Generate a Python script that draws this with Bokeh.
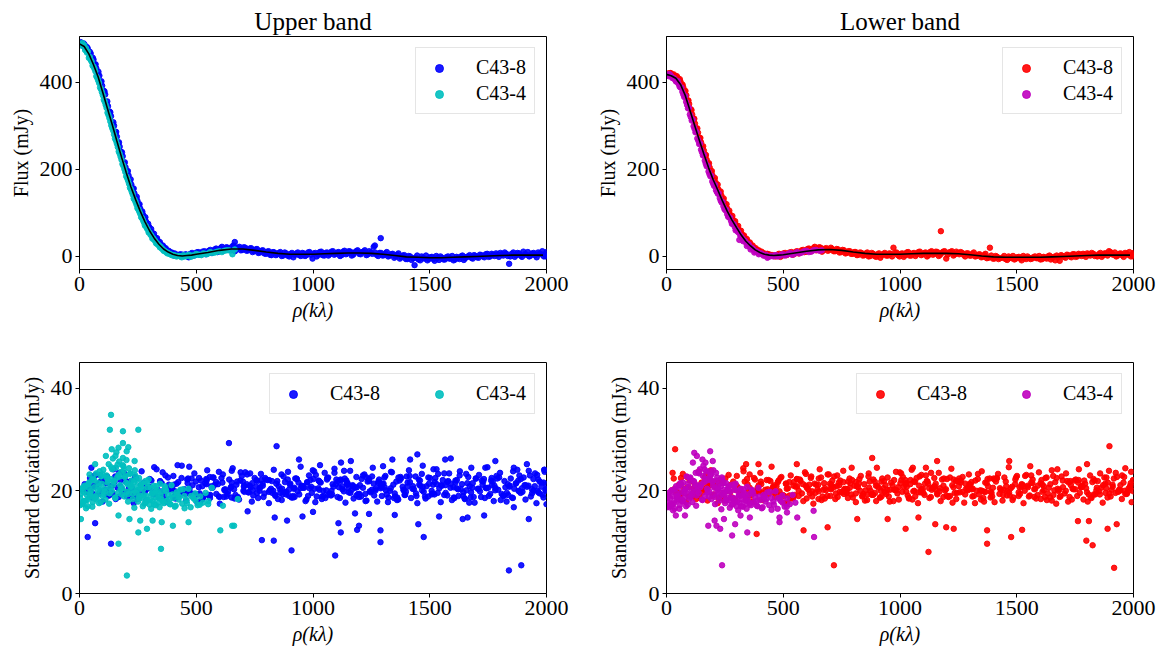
from bokeh.plotting import figure
from bokeh.layouts import column, row
from bokeh.models import Range1d, FixedTicker
from bokeh.embed import file_html
from bokeh.resources import INLINE

# ---------------- data ----------------
x_ticks = [0, 500, 1000, 1500, 2000]
flux_ticks = [0, 200, 400]
sd_ticks = [0, 20, 40]

# model curves
model_rho = [0, 20, 40, 60, 80, 100, 120, 140, 160, 180, 200, 220, 240, 260, 280, 300, 320, 340, 360, 380,
             400, 420, 440, 460, 480, 500, 550, 600, 650, 700, 750, 800, 850, 900, 950, 1000, 1050, 1100,
             1150, 1200, 1250, 1300, 1350, 1400, 1450, 1500, 1550, 1600, 1650, 1700, 1750, 1800, 1850,
             1900, 1950, 1985]
model_up = [488, 482, 465, 440, 412, 376, 339, 303, 265, 228, 193, 160, 131, 104, 80, 59, 42, 28, 17, 10,
            5, 2, 1, 2, 3, 5, 9, 14, 17, 17, 14, 10, 7, 5, 5, 5, 6, 7, 8, 8, 7, 5, 2, -1, -2, -3, -3, -2,
            -1, 0, 1, 2, 3, 3, 3, 3]
model_lo = [418, 415, 409, 395, 370, 336, 302, 268, 235, 204, 176, 152, 127, 104, 84, 66, 49, 35, 24, 15,
            9, 5, 3, 2, 3, 4, 8, 12, 15, 16, 14, 10, 7, 5, 5, 5, 6, 7, 7, 7, 6, 4, 1, -1, -2, -2, -2, -2,
            -1, 0, 1, 2, 3, 3, 3, 3]

# flux, C43-8, steep part (three passes)
rho_steep8 = [10, 22, 35, 48, 60, 72, 85, 97, 110, 122, 135, 148, 160, 172, 185, 197, 210, 222, 235, 248,
              260, 272, 285, 298, 310, 322, 335, 348, 360, 372, 385, 398, 410, 422, 435, 448,
              15, 28, 42, 55, 66, 78, 91, 104, 116, 128, 141, 154, 166, 178, 191, 204, 216, 228, 241, 254,
              266, 279, 291, 304, 316, 329, 341, 354, 366, 379, 392, 404, 416, 429, 441,
              5, 18, 31, 44, 57, 69, 81, 94, 107, 119, 132, 145, 157, 169, 182, 194, 207, 219, 232, 245,
              257, 269, 282, 294, 307, 319, 332, 344, 357, 369, 382, 395, 407, 419, 432, 444]
flux8_up_steep = [490, 486, 478, 466, 452, 432, 415, 392, 372, 345, 322, 300, 275, 252, 230, 205, 186, 165,
                  145, 128, 110, 96, 80, 68, 55, 45, 36, 27, 21, 14, 10, 6, 4, 2, 3, 1,
                  484, 479, 466, 452, 440, 418, 400, 380, 350, 333, 305, 285, 260, 240, 213, 195, 172, 155,
                  133, 118, 101, 86, 72, 58, 47, 39, 30, 22, 17, 9, 8, 2, 3, 1, 4,
                  492, 489, 481, 470, 456, 441, 424, 402, 379, 356, 331, 308, 286, 262, 239, 216, 196, 177,
                  156, 137, 120, 103, 90, 75, 63, 52, 42, 33, 25, 19, 13, 9, 7, 4, 5, 3]
flux8_lo_steep = [419, 418, 414, 410, 401, 388, 370, 350, 326, 305, 284, 262, 243, 222, 204, 186, 170, 154,
                  140, 123, 110, 96, 84, 72, 61, 52, 41, 34, 27, 20, 15, 11, 8, 4, 5, 2,
                  421, 416, 413, 404, 395, 380, 358, 338, 317, 294, 272, 250, 231, 212, 193, 176, 161, 146,
                  130, 115, 101, 89, 77, 66, 55, 46, 36, 29, 22, 16, 12, 7, 6, 3, 2,
                  420, 421, 418, 414, 407, 394, 380, 358, 336, 316, 294, 272, 253, 233, 214, 196, 180, 165,
                  149, 133, 120, 105, 93, 81, 70, 59, 48, 40, 32, 25, 19, 14, 11, 7, 6, 4]

# flux, C43-8, tail (two passes)
rho_tail8 = [455, 468, 482, 495, 508, 520, 535, 548, 560, 572,
             585, 598, 610, 622, 635, 648, 660, 672, 685, 698,
             710, 722, 735, 748, 760, 772, 785, 798, 810, 822,
             835, 848, 860, 872, 885, 898, 910, 922, 935, 948,
             960, 972, 985, 998, 1010, 1022, 1035, 1048, 1060, 1072,
             1085, 1098, 1110, 1122, 1135, 1148, 1160, 1172, 1185, 1198,
             1210, 1222, 1235, 1248, 1260, 1272, 1285, 1298, 1310, 1322,
             1335, 1348, 1360, 1372, 1385, 1398, 1410, 1422, 1440, 1452,
             1465, 1478, 1490, 1502, 1515, 1528, 1540, 1552, 1565, 1578,
             1590, 1602, 1615, 1628, 1640, 1652, 1665, 1678, 1690, 1702,
             1715, 1728, 1740, 1752, 1765, 1778, 1790, 1802, 1815, 1828,
             1845, 1858, 1870, 1882, 1895, 1908, 1920, 1932, 1945, 1958,
             1970, 1982, 1995,
             462, 475, 488, 501, 514, 527, 541, 554, 566, 579,
             591, 604, 616, 629, 641, 654, 666, 679, 691, 704,
             716, 729, 741, 754, 766, 779, 791, 804, 816, 829,
             841, 854, 866, 879, 891, 904, 916, 929, 941, 954,
             966, 979, 991, 1004, 1016, 1029, 1041, 1054, 1066, 1079,
             1091, 1104, 1116, 1129, 1141, 1154, 1166, 1179, 1191, 1204,
             1216, 1229, 1241, 1254, 1266, 1279, 1291, 1304, 1316, 1329,
             1341, 1354, 1366, 1379, 1391, 1404, 1416, 1429, 1446, 1459,
             1471, 1484, 1496, 1509, 1521, 1534, 1546, 1559, 1571, 1584,
             1596, 1609, 1621, 1634, 1646, 1659, 1671, 1684, 1696, 1709,
             1721, 1734, 1746, 1759, 1771, 1784, 1796, 1809, 1821, 1834,
             1851, 1864, 1876, 1889, 1901, 1914, 1926, 1939, 1951, 1964,
             1976, 1989, 2000]
flux8_up_tail = [5, -2, 8, 3, 10, 6, 12, 7, 15, 10,
                 18, 12, 22, 16, 20, 14, 25, 18, 22, 15,
                 20, 14, 19, 12, 17, 9, 14, 6, 12, 3,
                 9, 5, 10, 2, 7, 0, 8, 4, 9, 1,
                 7, 3, 10, -5, 8, 4, 11, 2, 9, 5,
                 12, 6, 10, 3, 13, 7, 11, 4, 12, 6,
                 10, 14, 5, 9, 22, 4, 8, 2, 7, 0,
                 5, -3, 4, -5, 2, -6, 1, -8, -3, -7,
                 0, -5, -9, -2, -6, 1, -8, -3, -7, 0,
                 -5, -9, -1, -6, 2, -4, 0, -3, 3, -2,
                 4, 0, 5, -1, 6, 1, 4, 8, 2, 6,
                 0, 9, 3, 7, -1, 5, 10, 2, 8, -2,
                 6, 12, 1,
                 0, 6, 2, 9, 4, 11, 5, 13, 8, 16,
                 10, 19, 13, 21, 15, 23, 12, 20, 14, 21,
                 13, 18, 10, 16, 8, 13, 7, 11, 4, 10,
                 3, 8, 1, 9, 2, 6, -2, 7, 3, 8,
                 1, 9, 4, 7, 0, 10, 3, 8, 2, 11,
                 4, 9, 1, 11, 5, 12, 2, 9, 14, 5,
                 11, 3, 12, 6, 9, 1, 8, 3, 10, 2,
                 6, 0, 7, -2, 3, -6, 0, -4, 2, -9,
                 -4, 2, -6, -1, -10, -3, 0, -7, -2, -5,
                 1, -7, -3, 0, -8, -1, 3, -5, 1, -3,
                 3, -2, 6, 0, 4, 7, -1, 5, 9, 1,
                 6, -1, 8, 2, 11, 4, 0, 7, 3, 9,
                 5, 0, 7]
flux8_lo_tail = [3, 0, 6, 2, 8, 5, 10, 6, 12, 9,
                 15, 11, 18, 13, 22, 16, 20, 14, 19, 15,
                 17, 12, 16, 10, 14, 8, 12, 6, 10, 4,
                 8, 3, 9, 1, 6, -1, 7, 3, 8, 2,
                 6, 20, 9, 0, 7, 3, 10, 2, 8, 5,
                 11, 5, 9, 3, 12, 6, 10, 4, 11, -5,
                 9, 12, 5, 8, 10, 4, 7, 2, 6, 0,
                 4, -2, 3, -4, 20, -5, 1, -6, -3, -6,
                 0, -4, -7, -2, -5, 1, -6, -3, -5, 0,
                 -4, -7, -1, -5, 2, -3, -9, -2, 3, -1,
                 4, 0, 5, -1, 6, 1, 4, 7, 2, 6,
                 0, 8, 3, 7, 12, 5, 9, 2, 7, -1,
                 6, 10, 2,
                 1, 4, -1, 7, 3, 9, 4, 11, 7, 14,
                 10, 17, 12, 19, 14, 21, 11, 18, 13, 20,
                 12, 17, 9, 15, 7, 12, 6, 10, 3, 9,
                 2, 7, 0, 8, 1, 5, -3, 6, 2, 7,
                 0, 8, 3, 6, -1, 9, 2, 7, 1, 10,
                 3, 8, 0, 10, 4, 11, 1, 8, 12, 4,
                 10, 2, 11, 5, 8, 0, 7, 2, 9, 1,
                 5, -1, 6, -3, 2, -5, -1, -4, 1, -8,
                 -3, 1, -5, -1, -9, -3, 0, -6, -2, -4,
                 1, -6, -3, 0, -7, -1, 2, -10, 1, -3,
                 3, -2, 5, 0, 4, 6, -1, 5, 8, 1,
                 5, -1, 7, 2, 10, 4, 0, 6, 3, 8,
                 4, 0, 6]
rho_out8f_up = [1290, 1435, 1840, 1265, 665, 2000, 2000, 1998]
flux_out8_up = [42, -20, -17, 25, 33, 10, 0, 5]
rho_out8f_lo = [1175, 2000, 2000, 1998]
flux_out8_lo = [58, 8, 0, 4]

# flux, C43-4 (two passes)
rho_flux4 = [5, 12, 20, 28, 36, 44, 52, 60, 68, 76,
             84, 92, 100, 108, 116, 124, 132, 140, 148, 156,
             164, 172, 180, 188, 196, 204, 212, 220, 228, 236,
             244, 252, 260, 268, 276, 284, 292, 300, 308, 316,
             324, 332, 340, 348, 356, 364, 372, 380, 390, 400,
             410, 420, 432, 445, 458, 470, 485, 500, 515, 530,
             545, 560, 580, 600, 620, 640, 655, 665,
             9, 16, 24, 32, 40, 48, 56, 64, 72, 80,
             88, 96, 104, 112, 120, 128, 136, 144, 152, 160,
             168, 176, 184, 192, 200, 208, 216, 224, 232, 240,
             248, 256, 264, 272, 280, 288, 296, 304, 312, 320,
             328, 336, 344, 352, 360, 368, 376, 385, 395, 405,
             415, 426, 438, 451, 464, 477, 492, 507, 522, 537,
             552, 570, 590, 610, 630]
flux4_up = [487, 490, 485, 478, 470, 458, 447, 436, 425, 410,
            398, 384, 370, 355, 341, 325, 310, 295, 280, 266,
            251, 236, 222, 208, 194, 180, 167, 154, 142, 130,
            119, 108, 98, 88, 78, 70, 62, 55, 48, 42,
            36, 30, 26, 22, 17, 13, 10, 8, 5, 3,
            2, 1, 0, 3, 1, 4, 2, 6, 4, 7,
            5, 10, 9, 12, 13, 14, 5, 16,
            484, 486, 474, 468, 456, 451, 438, 431, 414, 404,
            388, 377, 360, 348, 330, 318, 301, 289, 271, 259,
            241, 229, 212, 201, 184, 174, 158, 148, 133, 125,
            111, 103, 90, 83, 71, 65, 55, 50, 41, 38,
            30, 27, 21, 18, 13, 11, 7, 6, 3, 2,
            0, 1, -2, 0, 3, -1, 2, 4, 3, 6,
            7, 8, 11, 10, 14]
flux4_lo = [417, 419, 414, 410, 406, 401, 396, 388, 378, 366,
            355, 340, 326, 312, 299, 285, 271, 258, 245, 232,
            220, 207, 195, 184, 172, 162, 152, 144, 134, 124,
            115, 106, 97, 90, 82, 75, 68, 61, 55, 48,
            42, 37, 32, 28, 23, 20, 16, 12, 10, 7,
            5, 2, -3, 1, 0, 3, 1, 5, 4, 8,
            5, 10, 9, 13, 11, 15, 13, 14,
            414, 417, 410, 409, 402, 403, 390, 388, 372, 368,
            348, 341, 320, 314, 293, 286, 266, 259, 239, 233,
            213, 208, 189, 185, 167, 164, 148, 145, 128, 125,
            109, 107, 91, 89, 75, 74, 60, 58, 38, 45,
            35, 36, 24, 28, 16, 19, 9, 12, 5, 7,
            2, 4, -1, 1, 3, 0, 4, 2, 6, 4,
            8, 7, 12, 10, 14]

# standard deviation, C43-8 (two passes)
rho_std8 = [22, 31, 45, 53, 64, 70, 83, 91, 99, 112,
            118, 127, 139, 146, 155, 163, 176, 184, 190, 203,
            211, 219, 232, 238, 247, 259, 266, 274, 286, 293,
            301, 314, 320, 329, 341, 347, 356, 368, 375, 383,
            395, 402, 410, 423, 429, 438, 450, 457, 465, 477,
            484, 492, 505, 511, 520, 532, 539, 547, 559, 566,
            574, 586, 593, 601, 614, 620, 629, 641, 647, 656,
            668, 675, 683, 695, 702, 710, 723, 729, 738, 750,
            757, 765, 777, 784, 792, 805, 811, 820, 832, 839,
            847, 859, 866, 874, 886, 893, 901, 914, 920, 929,
            941, 947, 956, 968, 975, 983, 995, 1002, 1010, 1023,
            1029, 1038, 1050, 1057, 1065, 1077, 1084, 1092, 1105, 1111,
            1120, 1132, 1139, 1147, 1159, 1166, 1174, 1186, 1193, 1201,
            1214, 1220, 1229, 1241, 1247, 1256, 1268, 1275, 1283, 1295,
            1302, 1310, 1323, 1329, 1338, 1350, 1357, 1365, 1377, 1384,
            1392, 1405, 1411, 1420, 1432, 1439, 1447, 1459, 1466, 1474,
            1486, 1493, 1501, 1514, 1520, 1529, 1541, 1547, 1556, 1568,
            1575, 1583, 1595, 1602, 1610, 1623, 1629, 1638, 1650, 1657,
            1665, 1677, 1684, 1692, 1705, 1711, 1720, 1732, 1739, 1747,
            1759, 1766, 1774, 1786, 1793, 1801, 1814, 1820, 1829, 1841,
            1847, 1856, 1868, 1875, 1883, 1895, 1902, 1910, 1923, 1929,
            1938, 1950, 1957, 1965, 1977, 1984, 1992, 1998, 1987, 1971,
            26, 153, 278, 404, 527, 652, 774, 898, 1024, 1148,
            40, 57, 76, 95, 108, 122, 134, 150, 168, 181,
            197, 207, 225, 243, 252, 262, 280, 297, 308, 318,
            335, 352, 362, 379, 390, 406, 416, 433, 445, 461,
            471, 488, 498, 515, 526, 543, 553, 570, 580, 597,
            608, 624, 634, 652, 662, 679, 689, 706, 716, 733,
            744, 761, 771, 788, 798, 815, 826, 843, 853, 870,
            880, 897, 908, 924, 934, 952, 962, 979, 989, 1006,
            1016, 1033, 1044, 1061, 1071, 1088, 1098, 1115, 1126, 1143,
            1153, 1170, 1180, 1197, 1208, 1224, 1234, 1252, 1262, 1279,
            1289, 1306, 1316, 1333, 1344, 1361, 1371, 1388, 1398, 1415,
            1426, 1443, 1453, 1470, 1480, 1497, 1508, 1524, 1534, 1552,
            1562, 1579, 1589, 1606, 1616, 1633, 1644, 1661, 1671, 1688,
            1698, 1715, 1726, 1743, 1753, 1770, 1780, 1797, 1808, 1824,
            1834, 1852, 1862, 1879, 1889, 1906, 1916, 1933, 1944, 1961,
            1971, 1988, 1995, 60, 130, 215, 300, 470, 560, 650,
            705, 760, 812, 868, 921, 975, 1027, 1082, 1136, 1188,
            1243, 1297, 1352, 1404, 1458, 1512, 1567, 1621, 1675, 1729,
            1782, 1836, 1890, 1944, 1998, 48, 115, 175, 235, 290,
            345, 398, 455, 512, 566, 618, 672, 725, 778, 830,
            885, 938, 992, 1045, 1100, 1152, 1206, 1260, 1312, 1366]
sd8_up = [21.3, 19.8, 22.5, 18.7, 20.9, 23.1, 19.4, 21.8, 17.9, 20.2,
          22.8, 19.1, 21.0, 24.2, 18.4, 20.6, 22.1, 19.7, 23.5, 18.9,
          20.4, 21.9, 17.6, 22.7, 20.0, 19.3, 23.8, 21.4, 18.2, 20.8,
          22.3, 19.6, 24.6, 20.1, 18.8, 21.6, 19.9, 23.0, 17.8, 21.2,
          20.5, 22.9, 18.5, 21.7, 19.2, 24.9, 20.3, 18.1, 22.4, 19.5,
          21.1, 23.4, 17.7, 20.7, 22.0, 19.0, 21.5, 24.0, 18.6, 20.9,
          22.6, 19.4, 21.3, 17.5, 23.2, 20.2, 18.9, 22.2, 20.6, 24.4,
          19.2, 21.8, 18.3, 22.9, 20.0, 23.6, 19.7, 21.0, 17.9, 22.5,
          20.8, 18.6, 23.3, 21.4, 19.5, 22.1, 17.6, 20.4, 24.1, 19.0,
          21.9, 20.3, 18.2, 22.8, 19.8, 23.7, 21.2, 18.7, 20.6, 22.4,
          19.3, 24.7, 20.9, 18.0, 21.6, 23.0, 19.6, 22.3, 17.8, 20.5,
          21.7, 18.4, 23.5, 20.1, 22.6, 19.1, 21.3, 24.3, 18.8, 20.7,
          22.0, 19.9, 17.7, 21.5, 23.9, 20.2, 18.5, 22.7, 19.4, 21.1,
          20.6, 23.2, 18.1, 21.9, 19.7, 24.5, 20.4, 17.9, 22.2, 19.0,
          21.4, 22.9, 18.7, 20.0, 23.6, 19.5, 21.8, 18.3, 22.4, 20.8,
          19.2, 21.6, 24.0, 18.6, 20.3, 22.8, 17.6, 21.0, 23.3, 19.8,
          20.9, 18.9, 22.5, 21.2, 19.3, 24.2, 20.5, 17.8, 22.1, 19.6,
          21.7, 23.4, 18.2, 20.7, 22.0, 19.0, 23.8, 21.3, 18.5, 20.1,
          22.7, 19.7, 21.5, 17.7, 20.4, 23.1, 18.8, 22.3, 20.6, 24.6,
          19.4, 21.1, 18.0, 22.9, 20.2, 23.5, 19.1, 21.9, 17.9, 20.8,
          22.4, 18.6, 21.4, 24.1, 19.9, 20.5, 22.6, 18.3, 21.0, 23.0,
          19.5, 20.9, 17.6, 22.2, 21.6, 19.2, 23.7, 20.0, 18.7, 21.8,
          20.3, 22.8, 19.8, 21.2, 18.4, 23.9, 20.7, 19.0, 22.0, 21.5,
          20.6, 19.4, 21.3, 20.0, 22.1, 19.1, 20.9, 21.7, 18.8, 20.3,
          21.9, 19.7, 20.5, 22.4, 18.6, 21.1, 19.9, 20.7, 22.0, 19.3,
          20.2, 21.5, 19.0, 22.6, 20.8, 18.9, 21.4, 20.1, 19.6, 22.2,
          20.4, 18.7, 21.8, 19.5, 20.9, 22.3, 19.2, 20.6, 21.2, 18.9,
          22.5, 20.0, 19.4, 21.6, 20.3, 18.6, 22.0, 19.8, 21.3, 20.7,
          19.1, 21.9, 20.5, 18.8, 22.2, 20.1, 19.6, 21.4, 20.9, 19.3,
          21.7, 20.2, 18.7, 22.4, 19.9, 21.0, 20.6, 19.0, 22.1, 20.4,
          18.9, 21.6, 20.0, 22.5, 19.5, 20.8, 21.3, 18.6, 20.3, 22.0,
          19.7, 21.1, 20.6, 18.8, 22.3, 19.4, 21.8, 20.2, 19.1, 21.5,
          20.9, 22.6, 19.3, 20.5, 21.2, 18.7, 22.0, 20.1, 19.8, 21.7,
          20.4, 19.0, 22.2, 20.8, 18.9, 21.4, 20.0, 22.5, 19.6, 21.0,
          19.2, 21.9, 20.6, 18.6, 22.1, 20.3, 19.7, 21.5, 20.9, 18.8,
          22.4, 19.9, 21.2, 20.5, 19.0, 21.8, 20.1, 22.6, 19.4, 20.7,
          21.3, 18.7, 20.4, 22.0, 19.6, 21.1, 20.8, 18.9, 22.3, 20.0,
          19.5, 21.6, 20.2, 20.9, 19.8, 21.3, 20.6, 20.1, 19.2, 20.8,
          21.0, 19.6, 22.1, 20.4, 18.8, 21.7, 20.2, 19.3, 22.4, 20.7,
          19.9, 21.4, 18.9, 20.8, 22.0, 19.5, 21.1, 20.3, 18.7, 21.8,
          20.5, 19.2, 22.3, 20.0, 21.3, 19.8, 21.5, 20.9, 19.1, 20.4,
          21.9, 20.2, 19.4, 22.5, 20.6, 18.8, 21.2, 19.7, 22.1, 20.0,
          19.3, 21.6, 20.8, 19.0, 22.2, 20.5, 18.9, 21.4, 20.1, 22.6]
sd8_lo = [20.1, 22.4, 18.9, 21.2, 19.5, 23.3, 17.8, 20.7, 22.0, 19.0,
          21.6, 18.4, 23.8, 20.3, 19.7, 22.6, 18.1, 21.0, 24.0, 19.3,
          20.9, 17.6, 22.2, 21.5, 18.7, 20.0, 23.1, 19.8, 21.8, 18.3,
          22.9, 20.4, 19.1, 24.4, 18.6, 21.3, 20.6, 17.9, 22.5, 19.6,
          21.1, 23.5, 18.2, 20.2, 22.1, 19.4, 24.7, 20.8, 18.8, 21.7,
          19.9, 22.7, 17.7, 21.4, 20.5, 23.0, 18.5, 19.2, 22.3, 20.0,
          21.9, 18.0, 23.6, 20.6, 19.5, 22.8, 17.5, 21.2, 20.3, 24.2,
          18.9, 21.5, 20.1, 23.2, 19.0, 22.0, 18.4, 20.9, 21.6, 19.7,
          23.9, 20.4, 18.6, 22.4, 19.3, 21.0, 17.8, 20.7, 22.9, 19.1,
          21.3, 18.2, 23.4, 20.0, 22.2, 19.6, 24.5, 18.7, 21.8, 20.5,
          19.4, 22.6, 17.9, 21.1, 20.2, 23.7, 18.3, 21.5, 19.8, 22.1,
          20.8, 18.5, 24.1, 19.9, 21.7, 17.6, 22.8, 20.3, 19.2, 23.0,
          21.4, 18.8, 20.6, 22.5, 19.5, 23.5, 18.0, 21.0, 20.1, 22.3,
          19.0, 24.3, 20.7, 18.4, 21.9, 19.7, 22.7, 17.7, 20.4, 23.2,
          21.2, 18.9, 22.0, 20.0, 19.3, 23.8, 18.6, 21.6, 20.9, 22.4,
          19.6, 17.8, 21.8, 23.3, 20.2, 18.1, 22.6, 19.9, 24.6, 20.5,
          18.7, 21.3, 22.9, 19.4, 20.8, 17.6, 23.1, 21.0, 19.1, 22.2,
          20.3, 18.5, 23.6, 21.5, 19.8, 22.5, 18.2, 20.6, 24.0, 19.2,
          21.7, 20.0, 18.8, 22.8, 19.5, 23.4, 17.9, 21.1, 20.4, 22.0,
          19.0, 24.2, 20.7, 18.3, 21.4, 19.7, 23.0, 18.6, 22.3, 20.1,
          21.9, 19.3, 17.7, 22.6, 20.5, 23.9, 18.9, 21.2, 19.6, 22.7,
          20.2, 18.4, 21.6, 24.4, 19.9, 20.8, 17.8, 22.1, 21.0, 19.4,
          23.5, 20.6, 18.7, 21.8, 19.1, 22.4, 20.3, 18.0, 21.3, 20.9,
          19.8, 21.2, 20.4, 18.9, 22.0, 20.7, 19.3, 21.6, 20.1, 22.3,
          19.0, 20.8, 21.5, 19.6, 22.4, 20.2, 18.7, 21.1, 20.5, 19.4,
          21.8, 20.0, 19.1, 22.2, 20.6, 21.3, 18.8, 20.3, 21.9, 19.7,
          20.9, 22.5, 19.2, 20.4, 21.7, 18.6, 20.8, 22.1, 19.5, 21.0,
          20.2, 18.9, 21.4, 19.9, 22.6, 20.5, 19.0, 21.2, 20.7, 18.8,
          22.0, 20.3, 19.6, 21.5, 18.7, 20.9, 22.3, 19.4, 20.1, 21.8,
          19.2, 21.0, 20.6, 22.4, 19.8, 18.9, 21.6, 20.2, 19.5, 22.1,
          20.8, 19.1, 21.3, 20.0, 22.5, 19.7, 20.4, 21.9, 18.6, 20.7,
          21.4, 19.9, 22.2, 20.3, 18.8, 21.1, 19.6, 20.9, 22.0, 19.3,
          20.5, 21.7, 19.0, 22.3, 20.1, 19.8, 21.5, 18.7, 20.6, 22.4,
          19.4, 20.2, 21.8, 19.1, 20.8, 22.6, 19.7, 21.2, 20.0, 18.9,
          21.6, 20.4, 19.2, 22.1, 20.9, 19.5, 21.3, 20.1, 22.5, 19.0,
          20.7, 21.9, 18.8, 20.3, 22.2, 19.6, 21.0, 20.5, 19.3, 21.7,
          22.0, 19.9, 20.6, 21.4, 18.7, 20.2, 22.4, 19.8, 21.1, 20.0,
          19.5, 21.5, 20.8, 19.2, 20.4, 21.8, 20.1, 19.7, 20.9, 21.2,
          20.3, 19.4, 21.7, 20.6, 18.9, 22.1, 19.8, 21.0, 20.2, 22.4,
          19.6, 21.3, 20.0, 22.2, 19.1, 20.7, 21.5, 18.8, 20.4, 21.9,
          20.9, 19.3, 21.6, 20.1, 22.0, 19.7, 20.5, 21.2, 18.6, 20.8,
          22.3, 19.9, 20.6, 21.4, 19.0, 22.5, 20.2, 19.5, 21.8, 20.0,
          19.2, 21.1, 20.7, 22.1, 19.6, 20.3, 18.9, 21.6, 20.4, 19.8]

# standard deviation, C43-8, third pass
rho_std8c = [35, 88, 142, 196, 249, 302, 356, 410, 463, 517,
             571, 624, 678, 731, 785, 838, 892, 946, 999, 1053,
             1107, 1160, 1214, 1268, 1321, 1375, 1428, 1482, 1536, 1590,
             1643, 1697, 1750, 1804, 1857, 1911, 1965, 62, 116, 169,
             223, 276, 330, 383, 437, 490, 544, 597, 651, 704,
             758, 811, 865, 918, 972, 1026, 1079, 1133, 1186, 1240,
             1294, 1347, 1401, 1455, 1508, 1562, 1616, 1669, 1723, 1777,
             1830, 1884, 1938, 1990, 480, 530, 585, 637, 690, 742,
             795, 850, 903, 957, 1012, 1065, 1118, 1171, 1225, 1280,
             1334, 1388, 1441, 1494, 1548, 1603, 1656, 1710, 1763, 1817,
             1870, 1924, 1978, 505, 558, 612, 664, 718, 771, 824,
             878, 931, 985, 1039, 1092, 1146, 1199, 1253, 1307, 1360,
             1414, 1467, 1521, 1575, 1628, 1682, 1736, 1789, 1843, 1897,
             1951, 2000, 545, 600, 740, 860, 1005, 1125, 1230, 1395,
             1530, 1650, 1765, 1880, 1960, 700, 915, 1060, 1290, 1610]
sd8c_up = [21.2, 23.1, 19.5, 22.0, 18.4, 20.7, 23.6, 19.9, 21.5, 17.9,
           22.6, 20.3, 18.8, 23.4, 21.0, 19.2, 22.2, 20.5, 24.0, 18.6,
           21.8, 19.6, 23.0, 20.1, 17.8, 22.7, 20.9, 18.5, 23.3, 21.4,
           19.0, 22.4, 20.6, 18.2, 23.8, 21.1, 19.7, 22.9, 20.0, 23.5,
           18.9, 21.6, 24.2, 20.2, 22.5, 19.4, 21.3, 23.7, 18.7, 20.8,
           22.1, 19.8, 23.2, 20.4, 18.3, 21.9, 20.0, 23.9, 19.1, 22.3,
           20.7, 18.6, 22.8, 21.2, 19.3, 23.4, 20.5, 17.7, 22.0, 21.0,
           19.6, 23.0, 20.3, 24.1, 22.4, 18.8, 21.7, 19.9, 23.6, 20.1,
           22.5, 18.4, 21.4, 20.6, 23.1, 19.2, 22.2, 20.9, 18.0, 21.8,
           23.7, 20.2, 19.5, 22.6, 21.1, 18.7, 23.3, 20.4, 22.0, 19.0,
           21.5, 23.9, 20.8, 19.3, 22.7, 21.6, 18.5, 23.2, 20.0, 21.9,
           19.7, 22.3, 20.5, 18.9, 23.5, 21.2, 19.4, 22.8, 20.7, 18.2,
           22.9, 20.1, 21.7, 19.1, 23.0, 20.6, 18.6, 22.4, 21.0, 19.8,
           23.4, 20.3, 22.1, 18.8, 21.5, 19.6, 23.8, 20.9, 22.6, 19.2,
           21.3, 18.4, 22.5, 20.0, 23.1, 21.8, 19.0, 22.2, 20.5, 21.6]
sd8c_lo = [20.4, 22.7, 19.0, 21.5, 18.1, 20.9, 23.2, 19.6, 21.1, 17.7,
           22.2, 19.9, 18.5, 23.0, 20.6, 18.9, 21.8, 20.2, 23.6, 18.3,
           21.4, 19.3, 22.6, 19.8, 17.6, 22.3, 20.5, 18.2, 22.9, 21.0,
           18.7, 22.0, 20.3, 17.9, 23.4, 20.8, 19.4, 22.5, 19.7, 23.1,
           18.6, 21.2, 23.8, 19.9, 22.1, 19.1, 21.0, 23.3, 18.4, 20.5,
           21.7, 19.5, 22.8, 20.0, 18.0, 21.5, 19.7, 23.5, 18.8, 21.9,
           20.3, 18.3, 22.4, 20.9, 19.0, 23.0, 20.1, 17.5, 21.6, 20.7,
           19.3, 22.6, 19.9, 23.7, 22.0, 18.5, 21.3, 19.6, 23.2, 19.8,
           22.1, 18.1, 21.0, 20.2, 22.7, 18.9, 21.8, 20.5, 17.7, 21.4,
           23.3, 19.8, 19.2, 22.2, 20.7, 18.4, 22.9, 20.0, 21.6, 18.7,
           21.1, 23.5, 20.4, 19.0, 22.3, 21.2, 18.2, 22.8, 19.7, 21.5,
           19.4, 21.9, 20.1, 18.6, 23.1, 20.8, 19.1, 22.4, 20.3, 17.9,
           22.5, 19.7, 21.3, 18.8, 22.6, 20.2, 18.3, 22.0, 20.6, 19.5,
           23.0, 19.9, 21.7, 18.5, 21.1, 19.3, 23.4, 20.5, 22.2, 18.9,
           20.9, 18.1, 22.1, 19.6, 22.7, 21.4, 18.7, 21.8, 20.1, 21.2]

rho_out8_up = [35, 67, 51, 135, 640, 844, 781, 832, 908, 889,
               836, 1095, 1109, 1119, 1189, 1197, 1289, 1289, 1474, 1451,
               1839, 1892, 1924, 1447, 1340, 1416, 1566, 1590, 1781, 1916,
               1162, 940, 1992, 2000, 1662, 1641, 1733, 1860, 1860, 1738,
               1678, 1516, 720, 955, 1000, 1240, 1350, 1540, 1180, 1030,
               1120, 1300, 1470, 420, 470]
sd_out8_up = [11.0, 13.7, 24.5, 9.7, 29.3, 28.7, 10.4, 10.3, 8.4, 14.2,
              14.8, 7.4, 13.7, 11.9, 12.4, 13.2, 12.3, 10.0, 11.0, 13.5,
              4.5, 5.5, 14.5, 27.1, 26.1, 26.1, 26.1, 26.3, 25.8, 25.2,
              25.8, 26.1, 24.1, 17.4, 14.8, 14.5, 15.2, 16.8, 24.5, 24.5,
              24.5, 24.2, 16.0, 15.0, 15.9, 15.5, 15.3, 15.0, 15.6, 25.0,
              25.5, 24.8, 24.9, 25.0, 24.7]
rho_out8_lo = [37, 717, 1917, 1897, 1122, 881, 1159, 1468, 1373, 1373,
               1825, 1798, 1476, 1523, 1889, 1928, 1024, 1198, 1230, 1151,
               1079, 947, 587, 690, 386, 817, 1809, 1762, 1801, 1558,
               1674, 341, 394, 558, 793, 1055, 1111]
sd_out8_lo = [28.1, 5.5, 5.0, 28.7, 8.1, 26.4, 25.8, 25.8, 9.7, 12.3,
              9.4, 10.3, 11.0, 12.4, 12.6, 13.5, 12.6, 12.9, 12.6, 13.5,
              14.8, 14.5, 12.3, 12.9, 11.6, 14.5, 14.1, 14.1, 25.2, 24.8,
              24.2, 25.2, 25.2, 25.2, 24.5, 24.5, 24.5]

# standard deviation, C43-4
rho_std4 = [3, 8, 12, 17, 21, 26, 30, 35, 39, 44,
            48, 53, 57, 62, 66, 71, 75, 80, 84, 89,
            93, 98, 102, 107, 111, 116, 120, 125, 129, 134,
            138, 143, 147, 152, 156, 161, 165, 170, 174, 179,
            183, 188, 192, 197, 201, 206, 210, 215, 219, 224,
            228, 233, 237, 242, 246, 251, 255, 260, 264, 269,
            273, 278, 282, 287, 291, 296, 300, 305, 309, 314,
            318, 323, 327, 332, 336, 341, 345, 350, 356, 362,
            368, 374, 380, 387, 394, 401, 408, 416, 424, 432,
            440, 449, 458, 467, 476, 486, 496, 506, 517, 528, 540, 552,
            5, 14, 23, 32, 41, 50, 59, 68, 77, 86,
            95, 104, 113, 122, 131, 140, 149, 158, 167, 176,
            185, 194, 203, 212, 221, 230, 239, 248, 257, 266,
            275, 284, 293, 302, 311, 320, 329, 338, 347, 358,
            371, 385, 398, 412, 427, 443, 460, 478, 497, 515,
            2, 10, 19, 28, 37, 46, 55, 64, 73, 82,
            91, 100, 109, 118, 127, 136, 145, 154, 163, 172,
            181, 190, 199, 208, 217, 226, 235, 244, 253, 262,
            271, 289, 307, 325, 343, 365, 390, 420, 450, 490]
sd4_up = [18.6, 20.3, 17.4, 19.8, 21.0, 18.1, 19.3, 17.0, 20.6, 18.8,
          19.9, 22.1, 17.8, 20.7, 18.5, 23.4, 19.2, 21.5, 17.6, 20.1,
          22.8, 19.0, 24.1, 20.4, 18.3, 23.0, 21.6, 25.2, 19.5, 22.3,
          20.0, 26.3, 21.8, 18.7, 24.5, 22.6, 19.6, 25.7, 21.1, 23.7,
          20.5, 24.8, 18.9, 22.9, 26.0, 21.3, 19.4, 23.3, 20.8, 22.0,
          18.4, 21.7, 24.0, 19.7, 20.9, 17.9, 22.5, 19.1, 21.2, 18.6,
          20.3, 17.5, 21.9, 19.0, 18.2, 22.2, 17.3, 20.6, 19.4, 18.0,
          21.0, 18.7, 17.2, 20.1, 19.6, 17.8, 21.4, 18.4, 19.9, 17.6,
          20.5, 18.1, 19.2, 17.4, 21.1, 18.6, 16.9, 19.7, 18.3, 20.2,
          17.5, 19.0, 18.2, 20.4, 16.8, 18.7, 19.5, 17.2, 18.9, 17.7, 19.6, 18.0,
          19.4, 17.7, 20.8, 18.2, 21.6, 19.0, 22.4, 18.8, 20.2, 23.8,
          21.4, 19.3, 26.8, 22.0, 20.6, 24.2, 21.9, 27.5, 23.1, 20.3,
          25.0, 22.7, 19.8, 24.4, 21.0, 19.5, 23.0, 20.1, 18.5, 21.5,
          19.2, 17.8, 20.7, 18.3, 19.6, 17.4, 20.9, 18.6, 19.1, 17.9,
          20.0, 18.4, 19.3, 17.1, 18.8, 20.3, 17.6, 19.0, 18.1, 17.3,
          17.2, 20.5, 18.0, 16.6, 21.3, 19.5, 16.9, 22.0, 18.4, 20.9,
          17.8, 23.2, 19.9, 22.5, 17.5, 24.6, 21.2, 18.6, 25.1, 22.8,
          19.3, 24.0, 21.6, 17.9, 23.4, 20.2, 16.7, 22.1, 18.8, 20.6,
          17.0, 21.5, 16.5, 19.8, 16.8, 20.9, 17.4, 19.3, 16.6, 18.5]
sd4_lo = [17.9, 19.2, 16.8, 18.5, 20.0, 17.4, 18.9, 16.5, 19.6, 18.1,
          19.0, 20.8, 17.2, 19.7, 18.0, 21.6, 18.6, 20.3, 17.0, 19.4,
          21.4, 18.5, 22.6, 19.8, 17.8, 21.9, 20.5, 23.5, 19.1, 21.0,
          19.6, 24.2, 21.2, 18.3, 22.9, 21.7, 19.0, 23.8, 20.4, 22.3,
          19.9, 23.0, 18.4, 21.8, 24.0, 20.6, 18.8, 22.0, 20.1, 21.3,
          18.1, 20.9, 22.6, 19.3, 20.2, 17.6, 21.5, 18.7, 20.5, 18.2,
          19.8, 17.3, 21.2, 18.6, 17.9, 21.4, 17.0, 20.0, 19.0, 17.7,
          20.4, 18.3, 16.9, 19.6, 19.2, 17.5, 20.8, 18.0, 19.4, 17.2,
          20.0, 17.8, 18.8, 17.1, 20.6, 18.2, 16.6, 19.2, 17.9, 19.7,
          17.2, 18.6, 17.9, 19.9, 16.5, 18.3, 19.1, 16.9, 18.5, 17.4, 19.2, 17.7,
          18.7, 17.1, 20.1, 17.6, 20.9, 18.4, 21.5, 18.2, 19.6, 22.8,
          20.7, 18.8, 25.5, 21.3, 20.0, 23.4, 21.2, 24.9, 22.4, 19.7,
          23.8, 22.0, 19.3, 23.5, 20.4, 19.0, 22.2, 19.6, 18.1, 20.9,
          18.7, 17.4, 20.2, 17.9, 19.1, 17.0, 20.3, 18.1, 18.6, 17.5,
          19.5, 18.0, 18.9, 16.8, 18.4, 19.8, 17.3, 18.6, 17.7, 16.9,
          16.8, 19.6, 17.5, 16.2, 20.4, 18.9, 16.5, 21.2, 17.9, 20.3,
          17.3, 22.4, 19.4, 21.8, 17.1, 23.6, 20.7, 18.2, 24.2, 22.0,
          18.9, 23.1, 21.0, 17.4, 22.6, 19.7, 16.4, 21.5, 18.3, 20.0,
          16.7, 20.8, 16.2, 19.2, 16.5, 20.2, 17.0, 18.8, 16.3, 18.0]
rho_out4_up = [135, 130, 186, 252, 186, 138, 167, 209, 202, 236,
               154, 186, 67, 43, 167, 214, 260, 252, 289, 313,
               352, 349, 400, 467, 167, 203, 603, 662, 654, 6,
               551, 614, 567, 678]
sd_out4_up = [34.8, 31.9, 31.6, 31.9, 29.3, 28.1, 28.4, 28.5, 27.7, 25.8,
              26.8, 26.4, 25.2, 23.2, 15.2, 14.5, 14.2, 11.9, 12.6, 14.2,
              13.9, 8.7, 13.2, 13.9, 9.7, 3.5, 12.3, 13.2, 13.2, 14.5,
              17.4, 17.1, 20.6, 18.4]
rho_out4_lo = [238, 119, 130, 187, 198, 167, 154, 179, 206, 230,
               246, 281, 294, 346, 484, 484, 560, 632, 630, 516,
               40, 79, 214, 317, 357]
sd_out4_lo = [5.5, 27.4, 26.8, 27.7, 25.8, 25.5, 26.1, 13.2, 14.2, 12.6,
              14.5, 11.3, 13.5, 11.9, 13.9, 14.8, 14.8, 11.0, 16.1, 15.8,
              15.2, 15.2, 13.2, 15.2, 14.8]

# ---------------- styling ----------------
FONT = "Liberation Serif"
BLUE, CYAN, RED, MAGENTA = "#0000ff", "#00bfbf", "#ff0000", "#bf00bf"


def make_fig(width, height, borders, yrange, yticks, ylabel, title=None):
    l, r, t, b = borders
    p = figure(width=width, height=height, output_backend="svg", toolbar_location=None,
               x_range=Range1d(0, 2000), y_range=Range1d(*yrange),
               min_border_left=l, min_border_right=r, min_border_top=t, min_border_bottom=b,
               title=title)
    p.xgrid.visible = False
    p.ygrid.visible = False
    p.outline_line_color = "black"
    p.outline_line_alpha = 1
    p.outline_line_width = 1
    p.background_fill_color = "white"
    p.border_fill_color = "white"
    p.xaxis.ticker = FixedTicker(ticks=x_ticks)
    p.yaxis.ticker = FixedTicker(ticks=yticks)
    for ax in (p.xaxis[0], p.yaxis[0]):
        ax.major_tick_out = 4
        ax.major_tick_in = 0
        ax.minor_tick_out = 0
        ax.minor_tick_in = 0
        ax.axis_line_color = "black"
        ax.major_tick_line_color = "black"
        ax.major_label_text_font = FONT
        ax.major_label_text_font_size = "22px"
        ax.major_label_text_color = "black"
        ax.major_label_standoff = 3
        ax.axis_label_text_font = FONT
        ax.axis_label_text_font_size = "20px"
        ax.axis_label_text_color = "black"
        ax.axis_label_standoff = 5
    p.xaxis.axis_label = "ρ(kλ)"
    p.xaxis.axis_label_text_font_style = "italic"
    p.yaxis.axis_label = ylabel
    p.yaxis.axis_label_text_font_style = "normal"
    if title:
        p.title.text_font = FONT
        p.title.text_font_size = "25px"
        p.title.text_font_style = "normal"
        p.title.align = "center"
        p.title.standoff = 3
        p.title.text_color = "black"
    return p


def style_legend(p, horizontal):
    lg = p.legend[0]
    lg.location = "top_right"
    lg.margin = 11
    lg.padding = 8
    lg.glyph_width = 30
    lg.glyph_height = 20
    lg.label_height = 20
    lg.label_standoff = 22
    lg.label_text_font = FONT
    lg.label_text_font_size = "20px"
    lg.label_text_color = "black"
    lg.border_line_color = "#cccccc"
    lg.border_line_width = 1
    lg.background_fill_alpha = 0.8
    if horizontal:
        lg.orientation = "horizontal"
        lg.spacing = 44
    else:
        lg.spacing = 3


MK = "circle"
MS = 5.5
ALPHA = 0.9

# upper flux
p1 = make_fig(583, 330, (79, 37, 36, 61), (-30, 505), flux_ticks, "Flux (mJy)", "Upper band")
p1.scatter(rho_steep8 + rho_tail8 + rho_out8f_up, flux8_up_steep + flux8_up_tail + flux_out8_up,
           marker=MK, size=MS, color=BLUE, alpha=ALPHA, legend_label="C43-8")
p1.scatter(rho_flux4, flux4_up, marker=MK, size=MS, color=CYAN, alpha=ALPHA, legend_label="C43-4")
p1.line(model_rho, model_up, line_color="black", line_width=1.6)
style_legend(p1, False)

# lower flux
p2 = make_fig(575, 330, (83, 25, 36, 61), (-30, 505), flux_ticks, "Flux (mJy)", "Lower band")
p2.scatter(rho_steep8 + rho_tail8 + rho_out8f_lo, flux8_lo_steep + flux8_lo_tail + flux_out8_lo,
           marker=MK, size=MS, color=RED, alpha=ALPHA, legend_label="C43-8")
p2.scatter(rho_flux4, flux4_lo, marker=MK, size=MS, color=MAGENTA, alpha=ALPHA, legend_label="C43-4")
p2.line(model_rho, model_lo, line_color="black", line_width=1.6)
style_legend(p2, False)

# upper std
p3 = make_fig(583, 323, (79, 37, 32, 60), (0, 45), sd_ticks, "Standard deviation (mJy)")
p3.scatter(rho_std8 + rho_std8c + rho_out8_up, sd8_up + sd8c_up + sd_out8_up, marker=MK, size=MS,
           color=BLUE, alpha=ALPHA, legend_label="C43-8")
p3.scatter(rho_std4 + rho_out4_up, sd4_up + sd_out4_up, marker=MK, size=MS, color=CYAN, alpha=ALPHA,
           legend_label="C43-4")
style_legend(p3, True)

# lower std
p4 = make_fig(575, 323, (83, 25, 32, 60), (0, 45), sd_ticks, "Standard deviation (mJy)")
p4.scatter(rho_std8 + rho_std8c + rho_out8_lo, sd8_lo + sd8c_lo + sd_out8_lo, marker=MK, size=MS,
           color=RED, alpha=ALPHA, legend_label="C43-8")
p4.scatter(rho_std4 + rho_out4_lo, sd4_lo + sd_out4_lo, marker=MK, size=MS, color=MAGENTA, alpha=ALPHA,
           legend_label="C43-4")
style_legend(p4, True)

layout = column(row(p1, p2), row(p3, p4))
open("out.html", "w").write(file_html(layout, INLINE))
